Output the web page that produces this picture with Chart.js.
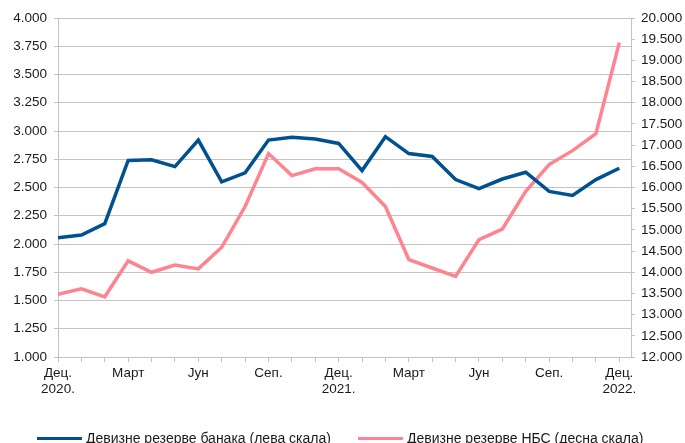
<!DOCTYPE html>
<html>
<head>
<meta charset="utf-8">
<script src="https://cdn.jsdelivr.net/npm/chart.js@4"></script>
<style>
  html, body { margin: 0; padding: 0; background: #fff; }
  #wrap { position: relative; width: 685px; height: 443px; overflow: hidden; }
  #legend {
    position: absolute; left: 0; top: 430px; width: 685px;
    font: 14px "Liberation Sans", Arial, sans-serif; color: #1a1a1a;
  }
  .item { position: absolute; top: 0; white-space: nowrap; line-height: 17px; }
  .item i { display: inline-block; width: 45px; height: 3px; vertical-align: middle; margin-right: 4px; position: relative; top: -1px; }
</style>
</head>
<body>
<div id="wrap">
  <canvas id="chart" width="685" height="443"></canvas>
  <div id="legend"></div>
</div>
<script>
// month tick labels, Dec 2020 .. Dec 2022
const monthLabels = [
    ['Дец.', '2020.'], '', '', 'Март', '', '', 'Јун', '', '', 'Сеп.', '', '',
    ['Дец.', '2021.'], '', '', 'Март', '', '', 'Јун', '', '', 'Сеп.', '', '',
    ['Дец.', '2022.']
];

// FX reserves of banks, EUR mn (left scale)
const bankReserves = [
    2055, 2080, 2180, 2740, 2745, 2685, 2920, 2550, 2630, 2920, 2945, 2930,
    2890, 2650, 2950, 2800, 2775, 2570, 2490, 2575, 2635, 2465, 2430, 2570, 2670
];

// FX reserves of NBS, EUR mn (right scale)
const nbsReserves = [
    13480, 13610, 13420, 14270, 14000, 14170, 14080, 14590, 15550, 16800, 16280, 16440,
    16440, 16120, 15550, 14300, 14100, 13900, 14770, 15020, 15910, 16540, 16870, 17270, 19420
];

const seriesNames = ['Девизне резерве банака (лева скала)', 'Девизне резерве НБС (десна скала)'];
const seriesColors = ['#00518f', '#ff8390'];

const gridColor = '#c3c3c3';
const tickFont = { family: '"Liberation Sans", Arial, sans-serif', size: 13.5 };

function fmt(v) {
    return Math.round(v).toString().replace(/\B(?=(\d{3})+(?!\d))/g, '.');
}

function toPoints(values) {
    return values.map((v, i) => ({ x: i, y: v }));
}

new Chart(document.getElementById('chart'), {
    type: 'line',
    data: {
        datasets: [{
            label: seriesNames[0],
            data: toPoints(bankReserves),
            borderColor: seriesColors[0],
            yAxisID: 'yLeft'
        }, {
            label: seriesNames[1],
            data: toPoints(nbsReserves),
            borderColor: seriesColors[1],
            yAxisID: 'yRight'
        }]
    },
    options: {
        responsive: false,
        animation: false,
        events: [],
        elements: {
            line: { borderWidth: 3.5, tension: 0, borderJoinStyle: 'miter' },
            point: { radius: 0 }
        },
        layout: { padding: { top: 18, bottom: 0, left: 0, right: 0 } },
        plugins: { legend: { display: false }, tooltip: { enabled: false } },
        scales: {
            x: {
                type: 'linear',
                min: 0,
                max: 24.5,
                afterFit: scale => { scale.height = 86; },
                grid: { drawOnChartArea: false, color: gridColor, tickLength: 5 },
                border: { color: gridColor, width: 1 },
                ticks: {
                    stepSize: 1,
                    autoSkip: false,
                    includeBounds: false,
                    maxRotation: 0,
                    padding: 3,
                    color: '#1a1a1a',
                    font: tickFont,
                    callback: v => monthLabels[v]
                }
            },
            yLeft: {
                position: 'left',
                min: 1000,
                max: 4000,
                afterFit: scale => { scale.width = 58; },
                grid: { color: gridColor, tickLength: 4 },
                border: { color: gridColor, width: 1 },
                ticks: { stepSize: 250, padding: 7, color: '#1a1a1a', font: tickFont, callback: fmt }
            },
            yRight: {
                position: 'right',
                min: 12000,
                max: 20000,
                afterFit: scale => { scale.width = 54; },
                grid: { drawOnChartArea: false, color: gridColor, tickLength: 4 },
                border: { color: gridColor, width: 1 },
                ticks: { stepSize: 500, padding: 6, color: '#1a1a1a', font: tickFont, callback: fmt }
            }
        }
    }
});

// legend below the plot
const legend = document.getElementById('legend');
const legendLeft = [37, 358];
seriesNames.forEach((name, i) => {
    const item = document.createElement('div');
    item.className = 'item';
    item.style.left = legendLeft[i] + 'px';
    item.innerHTML = '<i style="background:' + seriesColors[i] + '"></i>' + name;
    legend.appendChild(item);
});
</script>
</body>
</html>
